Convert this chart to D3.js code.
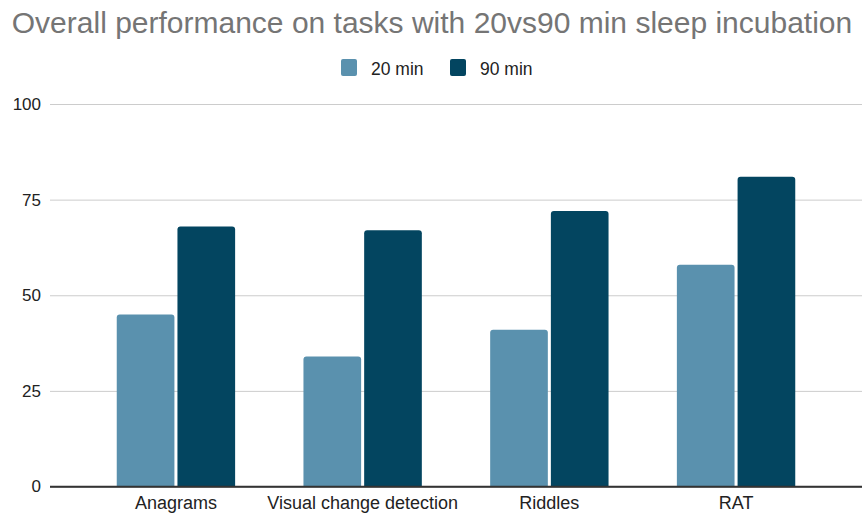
<!DOCTYPE html>
<html>
<head>
<meta charset="utf-8">
<script src="https://cdn.jsdelivr.net/npm/d3@7"></script>
<style>
  html, body { margin: 0; padding: 0; background: #fff; }
  svg { display: block; font-family: "Liberation Sans", Arial, sans-serif; }
</style>
</head>
<body>
<svg id="chart" width="863" height="517"></svg>
<script>
// Task categories and the two incubation conditions
const categories = ["Anagrams", "Visual change detection", "Riddles", "RAT"];
const seriesNames = ["20 min", "90 min"];
const values20 = [45, 34, 41, 58];
const values90 = [68, 67, 72, 81];
const yTicks = [0, 25, 50, 75, 100];
const colors = ["#5a91ae", "#034560"];

const svg = d3.select("#chart");
const W = 863, H = 517;
const plot = { left: 50, right: 862, top: 104, bottom: 486.5 };
const FONT = "Liberation Sans, Arial, sans-serif";

const x0 = d3.scaleBand()
  .domain(categories)
  .range([plot.left, plot.right])
  .paddingInner(0.366)
  .paddingOuter(0.3575);

const x1 = d3.scaleBand()
  .domain(seriesNames)
  .range([0, x0.bandwidth()])
  .paddingInner(0.05)
  .paddingOuter(0);

const y = d3.scaleLinear().domain([0, 100]).range([plot.bottom, plot.top]);

// Title
svg.append("text")
  .attr("x", 432)
  .attr("y", 33)
  .attr("text-anchor", "middle")
  .attr("fill", "#757575")
  .attr("font-size", 30)
  .text("Overall performance on tasks with 20vs90 min sleep incubation");

// Legend
const legend = svg.append("g");
const legendItems = [
  { name: seriesNames[0], color: colors[0], x: 341 },
  { name: seriesNames[1], color: colors[1], x: 450 }
];
legendItems.forEach(item => {
  legend.append("rect")
    .attr("x", item.x).attr("y", 59)
    .attr("width", 16).attr("height", 17)
    .attr("rx", 2)
    .attr("fill", item.color);
  legend.append("text")
    .attr("x", item.x + 30).attr("y", 74.5)
    .attr("font-size", 17.5)
    .attr("fill", "#222")
    .text(item.name);
});

// Gridlines and y-axis labels
const yAxis = d3.axisLeft(y)
  .tickValues(yTicks)
  .tickSize(-(plot.right - plot.left))
  .tickPadding(9);

const yG = svg.append("g")
  .attr("transform", `translate(${plot.left},0)`)
  .call(yAxis);
yG.select(".domain").remove();
yG.selectAll(".tick line")
  .attr("stroke", d => d === 0 ? "#333" : "#ccc")
  .attr("stroke-width", d => d === 0 ? 1.5 : 1);
yG.selectAll(".tick text")
  .attr("font-size", 17)
  .attr("fill", "#222")
  .attr("font-family", FONT);

// Bars with slightly rounded tops
function topRoundedBar(xp, yp, w, h, r) {
  r = Math.min(r, h, w / 2);
  return `M${xp},${yp + h}V${yp + r}Q${xp},${yp} ${xp + r},${yp}` +
         `H${xp + w - r}Q${xp + w},${yp} ${xp + w},${yp + r}V${yp + h}Z`;
}

const rows = categories.map((c, i) => ({
  category: c,
  bars: [
    { key: seriesNames[0], value: values20[i], color: colors[0] },
    { key: seriesNames[1], value: values90[i], color: colors[1] }
  ]
}));

const groups = svg.append("g").selectAll("g")
  .data(rows)
  .join("g")
  .attr("transform", d => `translate(${x0(d.category)},0)`);

groups.selectAll("path")
  .data(d => d.bars)
  .join("path")
  .attr("fill", d => d.color)
  .attr("d", d => topRoundedBar(x1(d.key), y(d.value), x1.bandwidth(), y(0) - y(d.value), 3));

// Redraw baseline on top of bars
svg.append("line")
  .attr("x1", plot.left).attr("x2", plot.right)
  .attr("y1", y(0)).attr("y2", y(0))
  .attr("stroke", "#333").attr("stroke-width", 1.5);

// X-axis category labels
const xAxis = d3.axisBottom(x0).tickSize(0).tickPadding(10);
const xG = svg.append("g")
  .attr("transform", `translate(0,${y(0)})`)
  .call(xAxis);
xG.select(".domain").remove();
xG.selectAll(".tick text")
  .attr("font-size", 18)
  .attr("fill", "#222")
  .attr("font-family", FONT);
</script>
</body>
</html>
